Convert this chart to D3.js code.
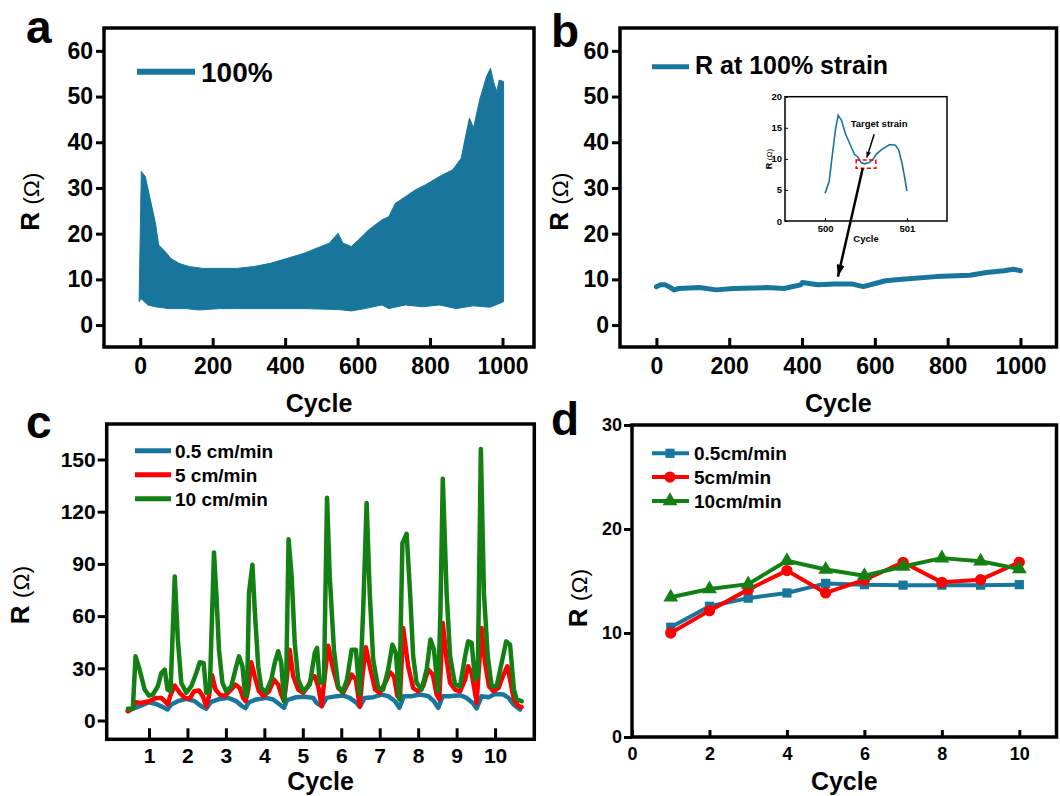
<!DOCTYPE html>
<html>
<head>
<meta charset="utf-8">
<script src="https://cdn.jsdelivr.net/npm/d3@7"></script>
<style>
body { margin: 0; background: #fff; }
svg { font-family: "Liberation Sans", Arial, sans-serif; font-weight: bold; }
</style>
</head>
<body>
<svg id="fig" width="1060" height="796"></svg>
<script>
// ---- panel a: envelope of the 1000-cycle trace at 100% strain
var aUpperCycle = [-3, 3, 14, 28, 42, 51, 70, 84, 107, 135, 173, 219, 266, 313, 359, 406, 452, 499, 522, 546, 560, 583, 602, 630, 667, 686, 704, 732, 760, 788, 826, 863, 886, 900, 909, 920, 937, 956, 967, 975, 984, 991, 1003];
var aUpperR = [5.5, 33.6, 32.5, 27.4, 22.3, 17.5, 16, 14.6, 13.5, 12.8, 12.4, 12.4, 12.4, 12.8, 13.5, 14.6, 15.7, 17.2, 17.9, 20.1, 17.9, 17.2, 18.6, 20.8, 23, 23.7, 26.6, 28.1, 29.6, 30.7, 32.5, 34, 36.5, 42, 45.3, 43.1, 49.3, 54.4, 56.2, 53.3, 51.1, 53.6, 53.3];
var aLowerCycle = [-3, 2, 21, 42, 79, 126, 163, 219, 266, 359, 452, 546, 583, 620, 667, 686, 732, 779, 826, 872, 919, 966, 1003];
var aLowerR = [5.1, 5.8, 4.4, 4, 3.6, 3.6, 3.3, 3.6, 3.6, 3.6, 3.6, 3.4, 3.1, 3.6, 4.4, 3.6, 4.4, 4, 4.4, 3.6, 4.2, 3.9, 5.1];

// ---- panel b: R at 100% strain
var bCycle = [0, 11, 25, 39, 48, 62, 118, 164, 211, 304, 350, 396, 401, 443, 489, 536, 568, 601, 629, 675, 768, 861, 907, 954, 981, 1000];
var bR = [8.4, 8.8, 8.8, 8.2, 7.7, 8, 8.2, 7.7, 8, 8.2, 8, 8.8, 9.3, 8.8, 9, 9, 8.4, 9.1, 9.7, 10, 10.6, 10.9, 11.5, 11.9, 12.2, 11.9];

// inset of panel b
var insetCycle = [500.0, 500.05, 500.09, 500.13, 500.16, 500.2, 500.25, 500.32, 500.36, 500.4, 500.44, 500.48, 500.54, 500.59, 500.63, 500.69, 500.79, 500.86, 500.9, 500.94, 500.97, 501.0];
var insetR = [4.45, 6.4, 10.8, 15, 17, 16.2, 14, 11.9, 10.7, 10.3, 9.4, 9.2, 9.4, 10, 10.8, 11.5, 12.3, 12.2, 11.4, 9.3, 7.2, 4.8];
var targetBox = [[500.38, 9.8], [500.62, 8.5]];

// ---- panel c: raw traces at three speeds
var cBlue = [[0.45,5.7],[0.76,8.2],[1.0,10.5],[1.19,9.5],[1.36,7.7],[1.48,6.3],[1.58,9.2],[1.75,11.1],[1.97,12.4],[2.19,11.1],[2.36,8.2],[2.49,6.7],[2.6,10.5],[2.84,12.4],[3.06,13],[3.27,11.1],[3.4,8.6],[3.51,7.1],[3.6,10.5],[3.79,12.1],[4.05,13],[4.23,12.1],[4.4,9.2],[4.51,7.3],[4.59,11.7],[4.83,13.4],[5.05,13.6],[5.27,13],[5.36,10.1],[5.49,8.2],[5.62,13],[5.88,14],[6.05,14.3],[6.22,13],[6.4,10.1],[6.48,7.8],[6.61,13],[6.83,13.4],[7.05,14.9],[7.22,14],[7.4,11.1],[7.51,7.3],[7.63,14],[7.83,14],[8.05,14.9],[8.26,14],[8.41,11.1],[8.52,7.3],[8.64,14],[8.83,14],[9.09,14.5],[9.26,13],[9.42,10.1],[9.52,6.9],[9.65,14],[9.83,13.4],[10.0,15.3],[10.22,14.9],[10.35,13],[10.48,9.2],[10.65,6.3]];
var cRed = [[0.45,5.3],[0.58,7.3],[0.65,10.5],[0.8,10.1],[1.0,11.1],[1.19,13],[1.32,13],[1.41,11.1],[1.49,9.2],[1.55,14],[1.67,20.1],[1.8,15.9],[1.93,13],[2.06,12.6],[2.17,16.8],[2.3,17.2],[2.4,14],[2.49,8.2],[2.56,14],[2.64,26],[2.73,17.8],[2.84,14.9],[2.97,14],[3.14,17.8],[3.25,20.6],[3.36,18.7],[3.45,13],[3.51,11.1],[3.58,17.8],[3.66,33.5],[3.75,25.4],[3.86,16.8],[3.98,14],[4.12,16.8],[4.25,23.5],[4.36,20.6],[4.44,14.9],[4.51,11.1],[4.57,21.6],[4.66,40.7],[4.75,25.4],[4.88,17.8],[5.01,15.9],[5.14,19.7],[5.25,25.4],[5.31,25.4],[5.4,19.7],[5.49,8.2],[5.57,25.4],[5.66,43],[5.79,29.3],[5.92,18.7],[6.05,15.9],[6.18,21.6],[6.27,26.4],[6.38,23.5],[6.48,8.2],[6.55,25.4],[6.64,42.1],[6.76,29.3],[6.88,17.8],[7.0,15.9],[7.14,21.6],[7.27,27.7],[7.37,25.4],[7.46,14],[7.53,14],[7.61,53.2],[7.74,31.2],[7.87,18.7],[7.99,16.8],[8.13,19.7],[8.26,29.3],[8.38,26.4],[8.48,14.9],[8.55,12.1],[8.64,56],[8.74,35],[8.83,21.6],[8.96,17.8],[9.09,16.8],[9.22,23.5],[9.3,31.2],[9.39,27.3],[9.48,15.9],[9.52,10.1],[9.65,53.2],[9.74,33.1],[9.84,19.7],[9.96,16.8],[10.09,18.7],[10.22,26.4],[10.32,31.2],[10.39,23.5],[10.49,12.1],[10.61,8.2],[10.69,7.8]];
var cGreen = [[0.45,6.7],[0.58,6.7],[0.65,36.9],[0.755,29.3],[0.886,17.8],[1.0,14.3],[1.1,14.9],[1.23,19.7],[1.32,27.3],[1.41,29.3],[1.48,17.8],[1.56,16.8],[1.67,82.8],[1.75,46.5],[1.84,21.6],[1.97,15.9],[2.1,19.7],[2.23,27.3],[2.32,33.5],[2.42,33.1],[2.49,15.9],[2.58,16.8],[2.69,96.6],[2.75,73.2],[2.82,40.7],[2.91,21.6],[3.01,16.8],[3.14,19.7],[3.27,31.2],[3.34,36.9],[3.43,31.2],[3.5,14.9],[3.55,14],[3.6,73.2],[3.69,89.5],[3.75,63.6],[3.84,31.2],[3.92,18.7],[4.04,16.2],[4.18,23.5],[4.27,33.1],[4.36,39.8],[4.44,33.1],[4.51,11.1],[4.57,25.4],[4.63,104.2],[4.71,82.8],[4.79,44.6],[4.88,23.5],[5.01,16.8],[5.18,20.6],[5.31,38.8],[5.37,41.7],[5.44,21.6],[5.55,22.6],[5.63,128],[5.7,82.8],[5.81,40.7],[5.92,19.7],[6.03,16.2],[6.15,23.5],[6.27,40.7],[6.38,40.7],[6.48,14.9],[6.57,63.6],[6.66,125],[6.74,73.2],[6.83,35],[6.96,18.7],[7.09,17.8],[7.22,29.3],[7.33,43.6],[7.42,38.8],[7.51,12.1],[7.59,101.9],[7.7,107.3],[7.79,73.2],[7.87,36.9],[7.96,21.6],[8.09,17.8],[8.22,29.3],[8.32,46.5],[8.41,40.7],[8.52,16.8],[8.58,63.6],[8.64,139],[8.74,73.2],[8.83,36.9],[8.96,20.6],[9.09,19.7],[9.22,36.9],[9.3,45.5],[9.39,44.6],[9.48,23.5],[9.55,25.4],[9.63,156],[9.71,73.2],[9.81,36.9],[9.91,19.7],[10.04,19.7],[10.17,33.1],[10.29,45.5],[10.39,43.6],[10.49,17.8],[10.56,12.1],[10.69,11.1]];
var cNames = ["0.5 cm/min", "5 cm/min", "10 cm/min"];

// ---- panel d: R at target strain per cycle
var dCycle = [1, 2, 3, 4, 5, 6, 7, 8, 9, 10];
var dBlue = [10.55, 12.57, 13.35, 13.85, 14.77, 14.65, 14.6, 14.6, 14.6, 14.65];
var dRed = [10.0, 12.15, 14.17, 16.0, 13.85, 15.1, 16.8, 14.87, 15.13, 16.8];
var dGreen = [13.43, 14.23, 14.7, 16.95, 16.1, 15.5, 16.4, 17.2, 16.9, 16.15];
var dNames = ["0.5cm/min", "5cm/min", "10cm/min"];

var abXTicks = [0, 200, 400, 600, 800, 1000];
var abYTicks = [0, 10, 20, 30, 40, 50, 60];
var cXTicks = [1, 2, 3, 4, 5, 6, 7, 8, 9, 10];
var cYTicks = [0, 30, 60, 90, 120, 150];
var dXTicks = [0, 2, 4, 6, 8, 10];
var dYTicks = [0, 10, 20, 30];

var blue = "#18769c", red = "#ff0000", green = "#138013";

var svg = d3.select("#fig");

var defs = svg.append("defs");
function arrowMarker(id, len, wid) {
    defs.append("marker")
        .attr("id", id)
        .attr("markerUnits", "userSpaceOnUse")
        .attr("viewBox", "0 0 " + len + " " + wid)
        .attr("refX", len).attr("refY", wid / 2)
        .attr("markerWidth", len).attr("markerHeight", wid)
        .attr("orient", "auto")
        .append("path")
        .attr("d", "M0,0L" + len + "," + (wid / 2) + "L0," + wid + "Z")
        .attr("fill", "#000");
}
arrowMarker("arrS", 6, 5);
arrowMarker("arrL", 12, 8);

// axes + scales for one panel; box = [left, top, right, bottom]
function panel(o) {
    var x = d3.scaleLinear().domain(o.xDomain).range([o.box[0], o.box[2]]);
    var y = d3.scaleLinear().domain(o.yDomain).range([o.box[3], o.box[1]]);
    var g = svg.append("g");

    var xa = g.append("g")
        .attr("transform", "translate(0," + o.box[3] + ")")
        .call(d3.axisBottom(x).tickValues(o.xTicks).tickSizeInner(-o.xTick)
            .tickSizeOuter(0).tickPadding(o.xPad).tickFormat(d3.format("d")));
    var ya = g.append("g")
        .attr("transform", "translate(" + o.box[0] + ",0)")
        .call(d3.axisLeft(y).tickValues(o.yTicks).tickSizeInner(o.yTick)
            .tickSizeOuter(0).tickPadding(o.yPad).tickFormat(d3.format("d")));

    [xa, ya].forEach(function(a) {
        a.select(".domain").remove();
        a.attr("font-family", null).attr("font-size", o.font);
        a.selectAll(".tick line").attr("stroke-width", o.tickW);
        a.selectAll(".tick text").attr("fill", "#000").attr("font-weight", "bold");
    });
    return {g: g, x: x, y: y, box: o.box};
}

function frame(p, w) {
    p.g.append("rect")
        .attr("x", p.box[0]).attr("y", p.box[1])
        .attr("width", p.box[2] - p.box[0]).attr("height", p.box[3] - p.box[1])
        .attr("fill", "none").attr("stroke", "#000").attr("stroke-width", w);
}

function yTitle(cx, cy, size) {
    var t = svg.append("text")
        .attr("transform", "translate(" + cx + "," + cy + ") rotate(-90)")
        .attr("text-anchor", "middle").attr("dy", "0.36em");
    t.append("tspan").attr("font-size", size).attr("font-weight", "bold").text("R ");
    t.append("tspan").attr("font-size", size * 0.88).attr("font-weight", "normal").text("(Ω)");
}

function xTitle(p, baseline, size) {
    svg.append("text")
        .attr("x", (p.box[0] + p.box[2]) / 2).attr("y", baseline)
        .attr("text-anchor", "middle").attr("font-size", size)
        .text("Cycle");
}

function letter(txt, x, y) {
    svg.append("text").attr("x", x).attr("y", y)
        .attr("font-size", 46).text(txt);
}

// ================= panel a =================
var pa = panel({box: [104, 28, 534, 347], xDomain: [-100, 1087], yDomain: [-4.8, 65],
    xTicks: abXTicks, yTicks: abYTicks, xTick: 9, yTick: 8, xPad: 11, yPad: 3, font: 23, tickW: 3});

var bandPts = aUpperCycle.map(function(c, i) { return [c, aUpperR[i]]; })
    .concat(aLowerCycle.map(function(c, i) { return [c, aLowerR[i]]; }).reverse());
pa.g.append("path")
    .attr("d", d3.line().x(function(d) { return pa.x(d[0]); }).y(function(d) { return pa.y(d[1]); })(bandPts) + "Z")
    .attr("fill", blue).attr("stroke", blue).attr("stroke-width", 1);

pa.g.append("line").attr("x1", 137).attr("x2", 195).attr("y1", 71.7).attr("y2", 71.7)
    .attr("stroke", blue).attr("stroke-width", 6);
pa.g.append("text").attr("x", 201).attr("y", 81.7).attr("font-size", 28).text("100%");
frame(pa, 3.5);
xTitle(pa, 412, 25);
yTitle(33, 201.7, 26);
letter("a", 26, 42.5);

// ================= panel b =================
var pb = panel({box: [620, 28, 1056.5, 347], xDomain: [-100, 1099], yDomain: [-4.8, 65],
    xTicks: abXTicks, yTicks: abYTicks, xTick: 9, yTick: 8, xPad: 11, yPad: 3, font: 23, tickW: 3});

pb.g.append("path")
    .datum(bCycle.map(function(c, i) { return [c, bR[i]]; }))
    .attr("d", d3.line().x(function(d) { return pb.x(d[0]); }).y(function(d) { return pb.y(d[1]); }))
    .attr("fill", "none").attr("stroke", blue).attr("stroke-width", 5)
    .attr("stroke-linejoin", "round").attr("stroke-linecap", "round");

pb.g.append("line").attr("x1", 652).attr("x2", 689).attr("y1", 66.7).attr("y2", 66.7)
    .attr("stroke", blue).attr("stroke-width", 5);
pb.g.append("text").attr("x", 695).attr("y", 74).attr("font-size", 25).text("R at 100% strain");

// inset
var pi = panel({box: [785, 96.7, 947, 221], xDomain: [499.51, 501.49], yDomain: [0, 20],
    xTicks: [500, 501], yTicks: [0, 5, 10, 15, 20], xTick: 3, yTick: -3, xPad: 4, yPad: 3, font: 9.5, tickW: 1});
pi.g.append("path")
    .datum(insetCycle.map(function(c, i) { return [c, insetR[i]]; }))
    .attr("d", d3.line().x(function(d) { return pi.x(d[0]); }).y(function(d) { return pi.y(d[1]); }))
    .attr("fill", "none").attr("stroke", blue).attr("stroke-width", 1.6);
pi.g.append("rect")
    .attr("x", pi.x(targetBox[0][0])).attr("y", pi.y(targetBox[0][1]))
    .attr("width", pi.x(targetBox[1][0]) - pi.x(targetBox[0][0]))
    .attr("height", pi.y(targetBox[1][1]) - pi.y(targetBox[0][1]))
    .attr("fill", "none").attr("stroke", red).attr("stroke-width", 1.5).attr("stroke-dasharray", "4,2.5");
pi.g.append("text").attr("x", pi.x(500.66)).attr("y", pi.y(15.1))
    .attr("text-anchor", "middle").attr("font-size", 9.5).text("Target strain");
pi.g.append("line")
    .attr("x1", pi.x(500.6)).attr("y1", pi.y(13.95)).attr("x2", pi.x(500.51)).attr("y2", pi.y(10.2))
    .attr("stroke", "#000").attr("stroke-width", 1.5).attr("marker-end", "url(#arrS)");
frame(pi, 1.5);
svg.append("text").attr("x", 866).attr("y", 241.7).attr("text-anchor", "middle")
    .attr("font-size", 9.5).text("Cycle");
var it = svg.append("text").attr("transform", "translate(766,159) rotate(-90)")
    .attr("text-anchor", "middle").attr("dy", "0.36em");
it.append("tspan").attr("font-size", 9).text("R ");
it.append("tspan").attr("font-size", 8).attr("font-weight", "normal").text("(Ω)");

// long arrow from target box down to the main trace
svg.append("line")
    .attr("x1", pi.x(500.46)).attr("y1", pi.y(8.5)).attr("x2", pb.x(498.6)).attr("y2", pb.y(10.6))
    .attr("stroke", "#000").attr("stroke-width", 2.5).attr("marker-end", "url(#arrL)");

frame(pb, 3.5);
xTitle(pb, 412, 25);
yTitle(562, 201.7, 26);
letter("b", 551, 46.7);

// ================= panel c =================
var pc = panel({box: [106.7, 424, 534.3, 739.3], xDomain: [-0.1, 11.02], yDomain: [-10.8, 170.4],
    xTicks: cXTicks, yTicks: cYTicks, xTick: 11, yTick: 9, xPad: 9, yPad: 2, font: 21, tickW: 3});

var cLine = d3.line().x(function(d) { return pc.x(d[0]); }).y(function(d) { return pc.y(d[1]); });
[[cBlue, blue], [cRed, red], [cGreen, green]].forEach(function(s) {
    pc.g.append("path").datum(s[0]).attr("d", cLine)
        .attr("fill", "none").attr("stroke", s[1]).attr("stroke-width", 4.5)
        .attr("stroke-linejoin", "round").attr("stroke-linecap", "round");
});

[blue, red, green].forEach(function(col, i) {
    var yy = 450.7 + i * 24;
    pc.g.append("line").attr("x1", 135).attr("x2", 171).attr("y1", yy).attr("y2", yy)
        .attr("stroke", col).attr("stroke-width", 5);
    pc.g.append("text").attr("x", 175).attr("y", yy + 6.8).attr("font-size", 19).text(cNames[i]);
});
frame(pc, 3.5);
xTitle(pc, 790, 25);
yTitle(23, 595, 26);
letter("c", 26, 438);

// ================= panel d =================
var pd = panel({box: [632, 425, 1056.5, 737], xDomain: [0, 10.96], yDomain: [0, 30],
    xTicks: dXTicks, yTicks: dYTicks, xTick: 7, yTick: 8, xPad: 10, yPad: 2, font: 18, tickW: 3});

var dSeries = [
    {vals: dBlue, col: blue, sym: d3.symbolSquare, size: 85},
    {vals: dRed, col: red, sym: d3.symbolCircle, size: 100},
    {vals: dGreen, col: green, sym: d3.symbolTriangle, size: 95}
];
dSeries.forEach(function(s) {
    var pts = dCycle.map(function(c, i) { return [c, s.vals[i]]; });
    pd.g.append("path").datum(pts)
        .attr("d", d3.line().x(function(d) { return pd.x(d[0]); }).y(function(d) { return pd.y(d[1]); }))
        .attr("fill", "none").attr("stroke", s.col).attr("stroke-width", 4).attr("stroke-linejoin", "round");
    pd.g.selectAll(null).data(pts).enter().append("path")
        .attr("d", d3.symbol().type(s.sym).size(s.size))
        .attr("transform", function(d) { return "translate(" + pd.x(d[0]) + "," + pd.y(d[1]) + ")"; })
        .attr("fill", s.col);
});

dSeries.forEach(function(s, i) {
    var yy = 453.3 + i * 23.8;
    pd.g.append("line").attr("x1", 652).attr("x2", 689).attr("y1", yy).attr("y2", yy)
        .attr("stroke", s.col).attr("stroke-width", 4);
    pd.g.append("path").attr("d", d3.symbol().type(s.sym).size(s.size))
        .attr("transform", "translate(670," + yy + ")").attr("fill", s.col);
    pd.g.append("text").attr("x", 694).attr("y", yy + 6.8).attr("font-size", 19).text(dNames[i]);
});
frame(pd, 3.5);
xTitle(pd, 790, 25);
yTitle(581, 598, 26);
letter("d", 551, 435);
</script>
</body>
</html>
